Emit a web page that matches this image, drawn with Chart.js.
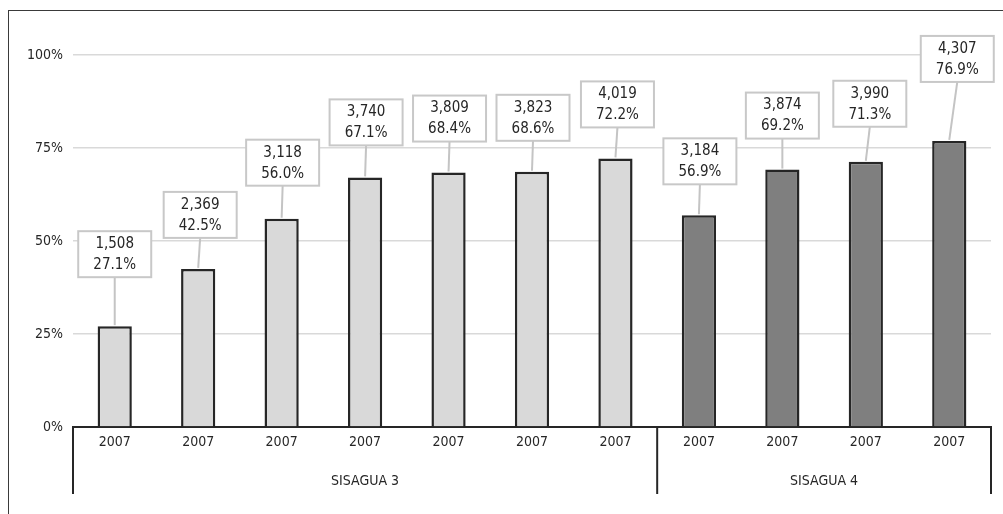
<!DOCTYPE html>
<html>
<head>
<meta charset="utf-8">
<script src="https://cdn.jsdelivr.net/npm/chart.js@4.4.0/dist/chart.umd.min.js"></script>
<style>
  html, body { margin: 0; padding: 0; background: #fff; overflow: hidden; }
  #wrap { position: relative; width: 1003px; height: 514px; }
  #frame {
    position: absolute; left: 8px; top: 10px; width: 2000px; height: 2000px;
    border-left: 1px solid #3a3a3a; border-top: 1px solid #3a3a3a; pointer-events: none;
  }
</style>
</head>
<body>
<div id="wrap">
  <canvas id="chart" width="1003" height="514"></canvas>
  <div id="frame"></div>
</div>
<script>
// chart values
const years = ['2007', '2007', '2007', '2007', '2007', '2007', '2007', '2007', '2007', '2007', '2007'];
const groupNames = ['SISAGUA 3', 'SISAGUA 4'];
const groupSizes = [7, 4];
const counts = [1508, 2369, 3118, 3740, 3809, 3823, 4019, 3184, 3874, 3990, 4307];
const percents = [27.1, 42.5, 56.0, 67.1, 68.4, 68.6, 72.2, 56.9, 69.2, 71.3, 76.9];
const yTicks = [0, 25, 50, 75, 100];

const FONT = '"Liberation Sans Narrow", "DejaVu Sans Condensed", sans-serif';
const TEXT = '#262626';

const barColors = [];
groupSizes.forEach((n, g) => {
  for (let i = 0; i < n; i++) barColors.push(g === 0 ? '#d9d9d9' : '#7f7f7f');
});

// label box placement relative to the bar top (layout only)
const labelLift = [72, 54, 56, 55, 54, 54, 54, 54, 54, 58, 82];
const labelShift = [0, 2, 1, 1, 1, 1, 2, 1, 0, 4, 8];

const boxLabels = {
  id: 'boxLabels',
  afterDatasetsDraw(chart) {
    const ctx = chart.ctx;
    const meta = chart.getDatasetMeta(0);
    const w = 73, h = 46;
    ctx.save();
    meta.data.forEach((bar, i) => {
      const cx = bar.x + labelShift[i];
      const cy = bar.y - labelLift[i];
      // leader line
      ctx.strokeStyle = '#c4c4c4';
      ctx.lineWidth = 2;
      ctx.beginPath();
      ctx.moveTo(cx, cy + h / 2);
      ctx.lineTo(bar.x, bar.y - 1);
      ctx.stroke();
      // box
      ctx.fillStyle = '#ffffff';
      ctx.fillRect(cx - w / 2, cy - h / 2, w, h);
      ctx.strokeStyle = '#c8c8c8';
      ctx.lineWidth = 2;
      ctx.strokeRect(cx - w / 2, cy - h / 2, w, h);
      // text
      ctx.fillStyle = TEXT;
      ctx.font = '15px ' + FONT;
      ctx.textAlign = 'center';
      ctx.textBaseline = 'middle';
      ctx.fillText(counts[i].toLocaleString('en-US'), cx, cy - 10);
      ctx.fillText(percents[i].toFixed(1) + '%', cx, cy + 11);
    });
    ctx.restore();
  }
};

const groupAxis = {
  id: 'groupAxis',
  afterDraw(chart) {
    const ctx = chart.ctx;
    const area = chart.chartArea;
    const step = (area.right - area.left) / years.length;
    const top = area.bottom, bottom = 494;
    ctx.save();
    ctx.strokeStyle = '#262626';
    ctx.lineWidth = 2;
    let start = 0;
    const edges = [area.left];
    groupSizes.forEach(n => { start += n; edges.push(area.left + start * step); });
    edges.forEach(x => {
      ctx.beginPath();
      ctx.moveTo(x, top);
      ctx.lineTo(x, bottom);
      ctx.stroke();
    });
    ctx.fillStyle = TEXT;
    ctx.font = '14px ' + FONT;
    ctx.textAlign = 'center';
    ctx.textBaseline = 'middle';
    groupNames.forEach((name, g) => {
      ctx.fillText(name, (edges[g] + edges[g + 1]) / 2, 481);
    });
    ctx.restore();
  }
};

new Chart(document.getElementById('chart').getContext('2d'), {
  type: 'bar',
  data: {
    labels: years,
    datasets: [{
      data: percents,
      backgroundColor: barColors,
      borderColor: '#262626',
      borderWidth: 2.5,
      borderSkipped: 'bottom',
      categoryPercentage: 1,
      barPercentage: 0.41
    }]
  },
  options: {
    responsive: false,
    animation: false,
    devicePixelRatio: 1,
    layout: { padding: { top: 55, right: 12, left: 0, bottom: 0 } },
    plugins: { legend: { display: false }, tooltip: { enabled: false } },
    scales: {
      y: {
        min: 0,
        max: 100,
        afterBuildTicks: s => { s.ticks = yTicks.map(v => ({ value: v })); },
        afterFit: s => { s.width = 73; },
        ticks: {
          callback: v => v + '%',
          color: TEXT,
          padding: 10,
          font: { family: FONT, size: 14 }
        },
        grid: { color: '#d9d9d9', lineWidth: 1.5, drawTicks: false },
        border: { display: false }
      },
      x: {
        afterFit: s => { s.height = 87; },
        ticks: {
          color: TEXT,
          padding: 7,
          maxRotation: 0,
          autoSkip: false,
          font: { family: FONT, size: 14 }
        },
        grid: { display: false, drawTicks: false },
        border: { color: '#262626', width: 2 }
      }
    }
  },
  plugins: [boxLabels, groupAxis]
});
</script>
</body>
</html>
